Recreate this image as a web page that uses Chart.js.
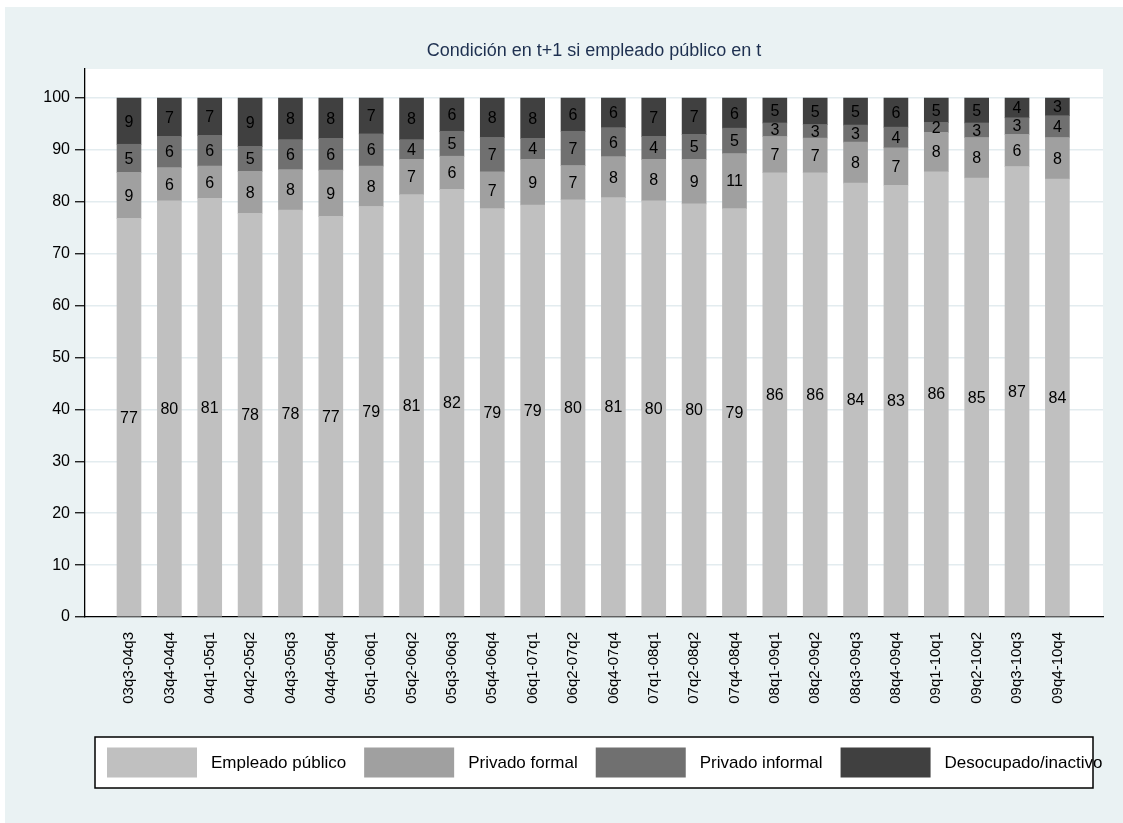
<!DOCTYPE html>
<html>
<head>
<meta charset="utf-8">
<script src="https://cdn.jsdelivr.net/npm/chart.js@4.4.1/dist/chart.umd.min.js"></script>
<style>
  html, body { margin: 0; padding: 0; background: #ffffff; }
  canvas { display: block; }
</style>
</head>
<body>
<canvas id="chart" width="1123" height="823"></canvas>
<script>
// Transition periods (t -> t+1)
const periods = [
  '03q3-04q3', '03q4-04q4', '04q1-05q1', '04q2-05q2', '04q3-05q3', '04q4-05q4',
  '05q1-06q1', '05q2-06q2', '05q3-06q3', '05q4-06q4', '06q1-07q1', '06q2-07q2',
  '06q4-07q4', '07q1-08q1', '07q2-08q2', '07q4-08q4', '08q1-09q1', '08q2-09q2',
  '08q3-09q3', '08q4-09q4', '09q1-10q1', '09q2-10q2', '09q3-10q3', '09q4-10q4'
];

// Shares (%) of each destination state in t+1
const empleadoPublico = [
  76.8, 80.2, 80.7, 77.8, 78.4, 77.2, 79.1, 81.4, 82.4, 78.7, 79.4, 80.4,
  80.8, 80.2, 79.6, 78.7, 85.6, 85.6, 83.6, 83.2, 85.8, 84.6, 86.8, 84.4
];
const privadoFormal = [
  8.9, 6.4, 6.2, 8.1, 7.8, 8.9, 7.8, 6.8, 6.4, 7.1, 8.8, 6.6,
  7.9, 8.0, 8.6, 10.6, 7.0, 6.7, 7.9, 7.2, 7.6, 7.8, 6.2, 8.0
];
const privadoInformal = [
  5.4, 6.0, 5.9, 4.8, 5.8, 6.1, 6.2, 3.8, 4.8, 6.6, 4.0, 6.6,
  5.6, 4.4, 4.8, 4.9, 2.6, 2.6, 3.3, 4.0, 1.9, 2.8, 3.2, 4.2
];
const desocupadoInactivo = [
  8.9, 7.4, 7.2, 9.3, 8.0, 7.8, 6.9, 8.0, 6.4, 7.6, 7.8, 6.4,
  5.7, 7.4, 7.0, 5.8, 4.8, 5.1, 5.2, 5.6, 4.7, 4.8, 3.8, 3.4
];

const yTicks = [0, 10, 20, 30, 40, 50, 60, 70, 80, 90, 100];
const chartTitle = 'Condición en t+1 si empleado público en t';

const FONT = '"Liberation Sans", Arial, Helvetica, sans-serif';

const series = [
  { label: 'Empleado público', values: empleadoPublico, color: '#c0c0c0' },
  { label: 'Privado formal', values: privadoFormal, color: '#a0a0a0' },
  { label: 'Privado informal', values: privadoInformal, color: '#707070' },
  { label: 'Desocupado/inactivo', values: desocupadoInactivo, color: '#404040' }
];

// Backgrounds: outer region and white plot region
const backgroundPlugin = {
  id: 'regions',
  beforeDraw(chart) {
    const { ctx, chartArea: a, width, height } = chart;
    ctx.save();
    ctx.fillStyle = '#ffffff';
    ctx.fillRect(0, 0, width, height);
    ctx.fillStyle = '#eaf2f3';
    ctx.fillRect(5, 7, width - 5, height - 7);
    ctx.fillStyle = '#ffffff';
    ctx.fillRect(a.left, a.top, a.right - a.left, a.bottom - a.top);
    ctx.restore();
  }
};

// Title centred over the plot region
const titlePlugin = {
  id: 'plotTitle',
  afterDraw(chart) {
    const { ctx, chartArea: a } = chart;
    ctx.save();
    ctx.font = '18px ' + FONT;
    ctx.fillStyle = '#1e3050';
    ctx.textAlign = 'center';
    ctx.textBaseline = 'middle';
    ctx.fillText(chartTitle, (a.left + a.right) / 2, 51);
    ctx.restore();
  }
};

// Rounded value written in the middle of every segment
const segmentLabels = {
  id: 'segmentLabels',
  afterDatasetsDraw(chart) {
    const { ctx } = chart;
    ctx.save();
    ctx.font = '16px ' + FONT;
    ctx.fillStyle = '#000000';
    ctx.textAlign = 'center';
    ctx.textBaseline = 'middle';
    chart.data.datasets.forEach((ds, di) => {
      const meta = chart.getDatasetMeta(di);
      meta.data.forEach((bar, i) => {
        const v = ds.data[i].y;
        const yMid = (bar.y + bar.base) / 2;
        ctx.fillText(String(Math.round(v)), bar.x, yMid + 1);
      });
    });
    ctx.restore();
  }
};

// Boxed legend row under the axis labels
const boxedLegend = {
  id: 'boxedLegend',
  afterDraw(chart) {
    const { ctx, chartArea: a } = chart;
    const left = a.left + 10, right = a.right - 10;
    const top = 737, h = 51;
    const sw = 90, sh = 30, textGap = 14, itemGap = 18;
    ctx.save();
    ctx.fillStyle = '#ffffff';
    ctx.fillRect(left, top, right - left, h);
    ctx.font = '17px ' + FONT;
    ctx.textBaseline = 'middle';
    ctx.textAlign = 'left';
    let x = left + 12;
    const cy = top + h / 2;
    chart.data.datasets.forEach(ds => {
      ctx.fillStyle = ds.backgroundColor;
      ctx.fillRect(x, cy - sh / 2, sw, sh);
      x += sw + textGap;
      ctx.fillStyle = '#000000';
      ctx.fillText(ds.label, x, cy + 1);
      x += ctx.measureText(ds.label).width + itemGap;
    });
    ctx.strokeStyle = '#000000';
    ctx.lineWidth = 1.5;
    ctx.strokeRect(left, top, right - left, h);
    ctx.restore();
  }
};

const ctx = document.getElementById('chart').getContext('2d');
new Chart(ctx, {
  type: 'bar',
  data: {
    datasets: series.map(s => ({
      label: s.label,
      data: s.values.map((v, i) => ({ x: i, y: v })),
      backgroundColor: s.color,
      borderWidth: 0,
      barThickness: 24
    }))
  },
  options: {
    responsive: false,
    animation: false,
    devicePixelRatio: 1,
    layout: { padding: { left: 0, right: 20, top: 69, bottom: 0 } },
    plugins: {
      legend: { display: false },
      title: { display: false },
      tooltip: { enabled: false }
    },
    scales: {
      x: {
        type: 'linear',
        stacked: true,
        min: -1.09,
        max: periods.length - 1 + 1.13,
        offset: false,
        afterBuildTicks(scale) {
          scale.ticks = periods.map((_, i) => ({ value: i }));
        },
        afterFit(scale) { scale.height = 206; },
        grid: { display: false, drawTicks: false },
        border: { display: true, color: '#000000', width: 1.3 },
        ticks: {
          autoSkip: false,
          minRotation: 90,
          maxRotation: 90,
          padding: 15,
          color: '#000000',
          font: { family: FONT, size: 15 },
          callback: (value) => periods[Math.round(value)] ?? ''
        }
      },
      y: {
        type: 'linear',
        stacked: true,
        min: 0,
        max: 105.6,
        afterBuildTicks(scale) {
          scale.ticks = yTicks.map(v => ({ value: v }));
        },
        afterFit(scale) { scale.width = 85; },
        grid: {
          color: '#e3ecef',
          lineWidth: 1.5,
          drawTicks: true,
          tickLength: 10,
          tickColor: '#000000',
          tickWidth: 1.2
        },
        border: { display: true, color: '#000000', width: 1.3 },
        ticks: {
          padding: 5,
          color: '#000000',
          font: { family: FONT, size: 16 },
          callback: (value) => String(value)
        }
      }
    }
  },
  plugins: [backgroundPlugin, segmentLabels, titlePlugin, boxedLegend]
});
</script>
</body>
</html>
